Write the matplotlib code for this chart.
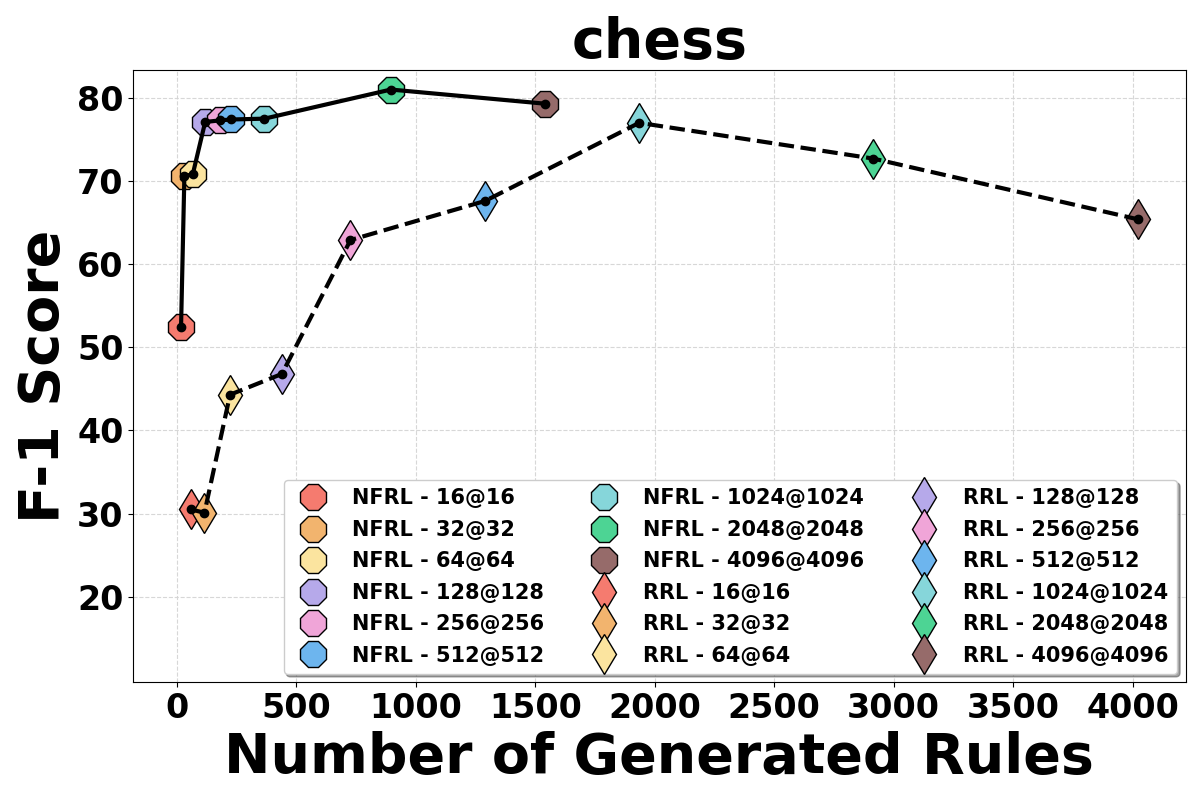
import matplotlib
matplotlib.use('Agg')
import matplotlib.pyplot as plt

plt.rcParams['font.weight'] = 'bold'
plt.rcParams['axes.labelweight'] = 'bold'
plt.rcParams['axes.titleweight'] = 'bold'

configs = ['16@16', '32@32', '64@64', '128@128', '256@256', '512@512',
           '1024@1024', '2048@2048', '4096@4096']
colors = ['#F57B6F', '#F2B46E', '#FBE49F', '#B6A9EA', '#F0A5D8', '#6DB5EE',
          '#86D6DA', '#4DD494', '#966B6A']

nfrl_rules = [18, 32, 67, 119, 183, 228, 367, 896, 1541]
nfrl_f1 = [52.4, 70.6, 70.8, 77.1, 77.3, 77.4, 77.5, 81.0, 79.3]

rrl_rules = [60, 116, 223, 440, 727, 1290, 1935, 2914, 4021]
rrl_f1 = [30.5, 30.1, 44.3, 46.8, 62.9, 67.6, 77.0, 72.7, 65.4]

fig = plt.figure(figsize=(12, 8), dpi=100)
ax = fig.gca()

for i, cfg in enumerate(configs):
    ax.plot(nfrl_rules[i], nfrl_f1[i], marker='8', markersize=20, color=colors[i],
            markeredgecolor='black', markeredgewidth=1, linestyle='none',
            label='NFRL - ' + cfg, zorder=2)
for i, cfg in enumerate(configs):
    ax.plot(rrl_rules[i], rrl_f1[i], marker='d', markersize=20, color=colors[i],
            markeredgecolor='black', markeredgewidth=1, linestyle='none',
            label='RRL - ' + cfg, zorder=2)

ax.plot(nfrl_rules, nfrl_f1, '-', color='black', linewidth=3, marker='o',
        markersize=6, zorder=3)
ax.plot(rrl_rules, rrl_f1, '--', color='black', linewidth=3, marker='o',
        markersize=6, zorder=3)

ax.grid(True, linestyle='--', color='lightgray', alpha=0.9)
ax.set_axisbelow(True)
ax.set_ylim(9.7, 83.4)
ax.set_xticks(range(0, 4001, 500))
ax.set_yticks(range(20, 81, 10))
ax.tick_params(axis='both', labelsize=24)

ax.set_title('chess', fontsize=40)
ax.set_xlabel('Number of Generated Rules', fontsize=40)
ax.set_ylabel('F-1 Score', fontsize=40)

ax.legend(ncol=3, loc='lower right', fontsize=15, shadow=True, fancybox=True,
          labelspacing=0.55, columnspacing=1.85, handletextpad=0.9,
          borderaxespad=0.4)

fig.subplots_adjust(left=0.111, right=0.988, bottom=0.147, top=0.913)
plt.savefig('out.png', dpi=100)
